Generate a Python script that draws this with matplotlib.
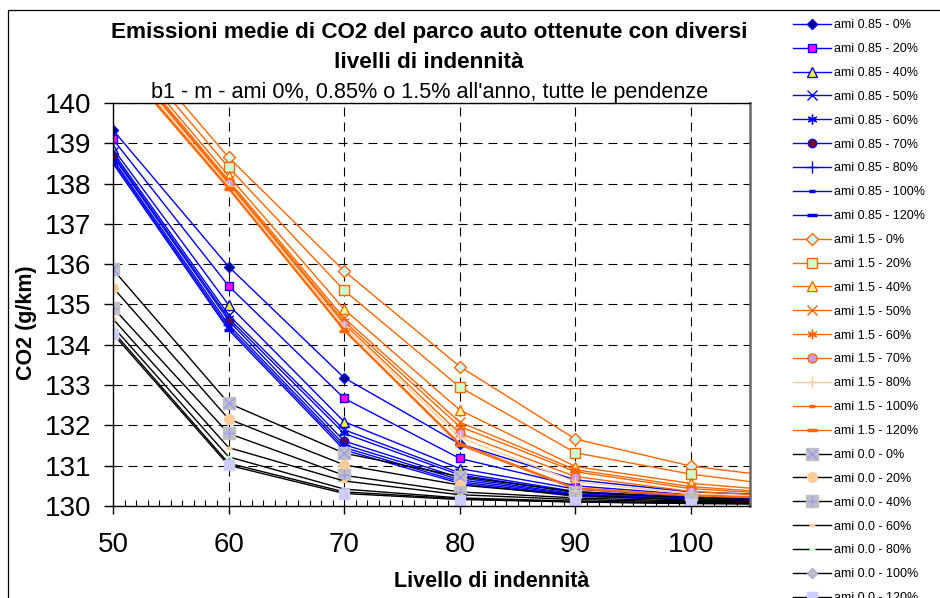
import matplotlib.pyplot as plt
from matplotlib.patches import Rectangle

plt.rcParams['font.family'] = ['Liberation Sans', 'DejaVu Sans']
plt.rcParams['lines.scale_dashes'] = False

# livello di indennita' (asse x)
livello = [50, 60, 70, 80, 90, 100, 110]

# ami 0.85% all'anno
perc_085 = ['0%', '20%', '40%', '50%', '60%', '70%', '80%', '100%', '120%']
co2_085 = [
    [139.33, 135.94, 133.18, 131.54, 130.65, 130.35, 130.25],
    [139.10, 135.46, 132.67, 131.18, 130.50, 130.28, 130.20],
    [138.87, 134.99, 132.09, 130.93, 130.42, 130.24, 130.17],
    [138.78, 134.74, 131.89, 130.82, 130.36, 130.22, 130.15],
    [138.72, 134.66, 131.80, 130.77, 130.33, 130.20, 130.14],
    [138.68, 134.60, 131.61, 130.70, 130.30, 130.18, 130.13],
    [138.60, 134.50, 131.52, 130.65, 130.28, 130.17, 130.12],
    [138.55, 134.43, 131.45, 130.60, 130.26, 130.16, 130.11],
    [138.50, 134.37, 131.39, 130.56, 130.24, 130.15, 130.10],
]

# ami 1.5% all'anno
perc_15 = ['0%', '20%', '40%', '50%', '60%', '70%', '80%', '100%', '120%']
co2_15 = [
    [142.00, 138.65, 135.83, 133.46, 131.66, 130.99, 130.64],
    [141.80, 138.40, 135.35, 132.95, 131.32, 130.79, 130.43],
    [141.60, 138.19, 134.88, 132.38, 130.98, 130.56, 130.33],
    [141.50, 138.08, 134.66, 132.08, 130.90, 130.48, 130.28],
    [141.45, 138.03, 134.58, 131.97, 130.85, 130.43, 130.26],
    [141.40, 138.01, 134.52, 131.80, 130.73, 130.36, 130.22],
    [141.30, 137.95, 134.45, 131.70, 130.60, 130.30, 130.20],
    [141.25, 137.90, 134.38, 131.55, 130.45, 130.27, 130.18],
    [141.20, 137.87, 134.35, 131.51, 130.42, 130.25, 130.17],
]

# ami 0.0% all'anno
perc_00 = ['0%', '20%', '40%', '60%', '80%', '100%', '120%']
co2_00 = [
    [135.87, 132.55, 131.31, 130.73, 130.35, 130.20, 130.13],
    [135.42, 132.16, 131.02, 130.52, 130.27, 130.15, 130.10],
    [134.92, 131.80, 130.76, 130.35, 130.20, 130.12, 130.08],
    [134.64, 131.45, 130.62, 130.28, 130.16, 130.10, 130.07],
    [134.45, 131.22, 130.42, 130.20, 130.12, 130.08, 130.05],
    [134.33, 131.06, 130.35, 130.18, 130.10, 130.07, 130.05],
    [134.27, 131.01, 130.31, 130.16, 130.10, 130.06, 130.04],
]

BLU = '#0000FF'
ARANCIO = '#FF6600'
NERO = '#000000'
AST = (6, 2, 0)

stili_085 = [
    dict(marker='D', ms=5.5, mfc='#000080', mec=BLU),
    dict(marker='s', ms=6, mfc='#FF00FF', mec=BLU),
    dict(marker='^', ms=6.5, mfc='#FFFF00', mec=BLU),
    dict(marker='x', ms=6.5, mec=BLU),
    dict(marker=AST, ms=7, mec=BLU),
    dict(marker='o', ms=6, mfc='#800000', mec=BLU),
    dict(marker='+', ms=8, mec=BLU),
    dict(marker='_', ms=4, mew=2.5, mec=BLU),
    dict(marker='_', ms=7, mew=2.5, mec=BLU),
]
stili_15 = [
    dict(marker='D', ms=6, mfc='#CCFFFF', mec=ARANCIO),
    dict(marker='s', ms=6.5, mfc='#CCFFCC', mec=ARANCIO),
    dict(marker='^', ms=7, mfc='#FFFF99', mec=ARANCIO),
    dict(marker='x', ms=6.5, mec=ARANCIO),
    dict(marker=AST, ms=7, mec=ARANCIO),
    dict(marker='o', ms=6.5, mfc='#CC99FF', mec=ARANCIO),
    dict(marker='+', ms=8, mec='#FFCC99', color='#FFCC99'),
    dict(marker='_', ms=4, mew=2.5, mec=ARANCIO),
    dict(marker='_', ms=7, mew=2.5, mec=ARANCIO),
]
stili_00 = [
    dict(marker='s', ms=9, mfc='#C0C0C0', mec='#C0C0C0'),
    dict(marker='o', ms=7, mfc='#FFCC99', mec='#FFCC99'),
    dict(marker='s', ms=9, mfc='#C0C0C0', mec='#C0C0C0'),
    dict(marker='_', ms=4, mew=2.5, mec='#FFCC99'),
    dict(marker='_', ms=5, mew=2.5, mec='#CCFFCC'),
    dict(marker='D', ms=5, mfc='#C0C0C0', mec='#AAAADD'),
    dict(marker='s', ms=7.5, mfc='#CCCCFF', mec='#CCCCFF'),
]
# simboli sovrapposti ai quadrati grigi
sovra_00 = {0: 'x', 2: '+'}

fig = plt.figure(figsize=(9.4, 5.98), dpi=100)
W, H = 940, 598
ax = fig.add_axes([113 / W, 1 - 506 / H, (750 - 113) / W, (506 - 103) / H])

handles, labels = [], []

def traccia(ys, colore, stile, etichetta, sovra=None):
    st = dict(stile)
    c = st.pop('color', colore)
    ln, = ax.plot(livello, ys, color=c, lw=1.0, **st)
    h = ln
    if sovra:
        ov, = ax.plot(livello, ys, ls='none', marker=sovra, ms=7, mew=1.0,
                      mec='#9999FF')
        h = (ln, ov)
    handles.append(h)
    labels.append(etichetta)

for ys, p, st in zip(co2_085, perc_085, stili_085):
    traccia(ys, BLU, st, 'ami 0.85 - ' + p)
for ys, p, st in zip(co2_15, perc_15, stili_15):
    traccia(ys, ARANCIO, st, 'ami 1.5 - ' + p)
for i, (ys, p, st) in enumerate(zip(co2_00, perc_00, stili_00)):
    traccia(ys, NERO, st, 'ami 0.0 - ' + p, sovra_00.get(i))

ax.set_xlim(50, 105.1)
ax.set_ylim(130, 140)
ax.set_xticks(range(50, 101, 10))
ax.set_xticks(range(50, 106), minor=True)
ax.set_yticks(range(130, 141))
ax.tick_params(axis='x', which='major', direction='out', length=6, width=1,
               labelsize=20, pad=13)
ax.tick_params(axis='x', which='minor', direction='in', length=4.5, width=0.8)
ax.tick_params(axis='y', direction='out', length=6.5, width=1, labelsize=20, pad=9)
ax.grid(True, which='major', color='black', lw=0.8, linestyle=(0, (6.5, 4.3)))
for s in ['left', 'bottom', 'top']:
    ax.spines[s].set_color('black')
    ax.spines[s].set_linewidth(1.0)
ax.spines['right'].set_color('#666666')
ax.spines['right'].set_linewidth(1.8)

# cornice del grafico
fig.patches.append(Rectangle((8 / W, -0.1), 1.2, 1 - 10 / H + 0.1,
                             transform=fig.transFigure, fill=False,
                             ec='black', lw=0.9))

fig.text(429 / W, 1 - 38.3 / H,
         'Emissioni medie di CO2 del parco auto ottenute con diversi',
         ha='center', va='baseline', fontsize=16.2, fontweight='bold')
fig.text(429 / W, 1 - 68.3 / H, 'livelli di indennità',
         ha='center', va='baseline', fontsize=16.2, fontweight='bold')
fig.text(430 / W, 1 - 97.7 / H,
         "b1 - m - ami 0%, 0.85% o 1.5% all'anno, tutte le pendenze",
         ha='center', va='baseline', fontsize=15.6)
fig.text(492 / W, 1 - 586.7 / H, 'Livello di indennità',
         ha='center', va='baseline', fontsize=15.5, fontweight='bold')
fig.text(26.5 / W, 1 - 322.5 / H, 'CO2 (g/km)', rotation=90,
         ha='center', va='center', fontsize=15.5, fontweight='bold')

fig.legend(handles, labels, loc='upper left',
           bbox_to_anchor=(793 / W, 1 - 19.2 / H), frameon=False,
           fontsize=9, handlelength=3.04, handletextpad=0.25,
           labelspacing=0.95, borderpad=0, borderaxespad=0, numpoints=1)

fig.savefig('out.png', dpi=100)
